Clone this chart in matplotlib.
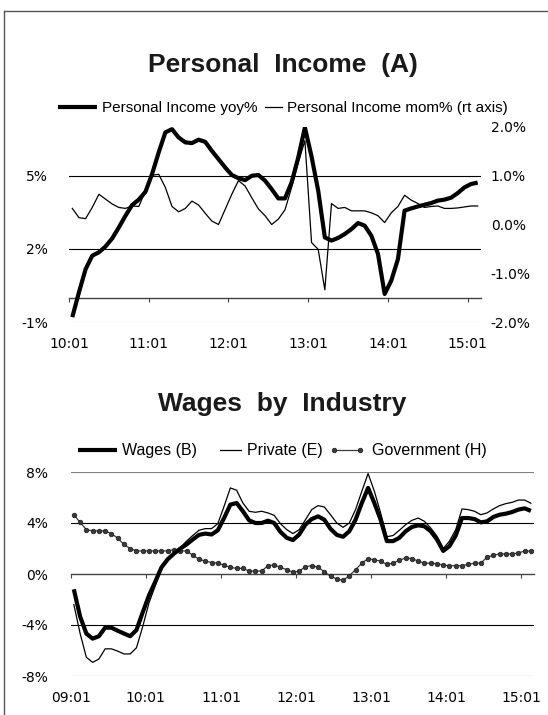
import numpy as np
import matplotlib
matplotlib.use('Agg')
import matplotlib.pyplot as plt
from matplotlib.legend_handler import HandlerLine2D
from matplotlib.lines import Line2D

# --- Personal Income, monthly 2010:01 - 2015:02 ---
pi_yoy = [-0.8, 0.22, 1.17, 1.72, 1.86, 2.1, 2.43, 2.88, 3.36, 3.8,
          4.02, 4.34, 5.07, 5.96, 6.78, 6.91, 6.57, 6.37, 6.34, 6.48,
          6.39, 6.02, 5.68, 5.34, 5.03, 4.9, 4.82, 5.0, 5.03, 4.8,
          4.45, 4.07, 4.07, 4.73, 5.75, 6.98, 5.79, 4.39, 2.47, 2.34,
          2.45, 2.61, 2.81, 3.06, 2.95, 2.54, 1.79, 0.15, 0.7, 1.58,
          3.57, 3.66, 3.74, 3.81, 3.88, 3.98, 4.02, 4.1, 4.29, 4.52,
          4.66, 4.72]
pi_mom = [0.33, 0.14, 0.12, 0.35, 0.62, 0.52, 0.42, 0.35, 0.33, 0.38,
          0.37, 0.69, 1.01, 1.03, 0.76, 0.37, 0.26, 0.33, 0.48, 0.40,
          0.23, 0.07, 0.0, 0.31, 0.62, 0.90, 0.79, 0.55, 0.32, 0.18,
          0.0, 0.11, 0.3, 0.76, 1.27, 1.72, -0.37, -0.51, -1.34, 0.43,
          0.33, 0.35, 0.28, 0.28, 0.28, 0.24, 0.18, 0.04, 0.24, 0.37,
          0.6, 0.5, 0.43, 0.35, 0.37, 0.38, 0.33, 0.33, 0.34, 0.36,
          0.38, 0.38]
pi_ticks = ['10:01', '11:01', '12:01', '13:01', '14:01', '15:01']
pi_left_ticks = [-1, 2, 5]
pi_left_labels = ['-1%', '2%', '5%']
pi_right_ticks = [-2, -1, 0, 1, 2]
pi_right_labels = ['-2.0%', '-1.0%', '0.0%', '1.0%', '2.0%']

# --- Wages by industry, yoy%, monthly 2009:01 - 2015:02 ---
wages_b = [-1.2, -3.33, -4.67, -5.07, -4.88, -4.21, -4.21, -4.45, -4.67, -4.88,
           -4.4, -3.01, -1.68, -0.61, 0.52, 1.16, 1.6, 1.99, 2.32, 2.71,
           3.07, 3.17, 3.1, 3.43, 4.39, 5.44, 5.57, 4.92, 4.21, 4.0,
           4.0, 4.18, 4.0, 3.3, 2.84, 2.66, 3.1, 3.87, 4.31, 4.52,
           4.26, 3.54, 3.07, 2.92, 3.35, 4.26, 5.57, 6.75, 5.57, 4.26,
           2.58, 2.58, 2.84, 3.35, 3.69, 3.82, 3.74, 3.35, 2.71, 1.81,
           2.19, 3.02, 4.39, 4.39, 4.31, 4.05, 4.13, 4.47, 4.65, 4.73,
           4.86, 5.05, 5.15, 4.95]
private_e = [-2.39, -4.66, -6.53, -6.93, -6.67, -5.87, -5.87, -6.05, -6.27, -6.27,
             -5.79, -4.13, -2.27, -0.93, 0.39, 1.11, 1.6, 2.06, 2.58, 3.02,
             3.43, 3.56, 3.56, 3.95, 5.31, 6.75, 6.57, 5.57, 4.92, 4.84,
             4.92, 4.79, 4.6, 3.95, 3.48, 3.17, 3.48, 4.26, 5.05, 5.36,
             5.26, 4.65, 4.0, 3.66, 4.0, 5.05, 6.49, 7.88, 6.49, 4.79,
             2.92, 3.02, 3.43, 3.87, 4.21, 4.39, 4.13, 3.61, 2.97, 1.99,
             2.58, 3.48, 5.1, 5.05, 4.92, 4.65, 4.79, 5.1, 5.36, 5.52,
             5.62, 5.8, 5.8, 5.55]
govt_h = [4.65, 4.05, 3.48, 3.38, 3.38, 3.38, 3.17, 2.81, 2.32, 1.99,
          1.81, 1.81, 1.81, 1.81, 1.81, 1.81, 1.91, 1.81, 1.81, 1.47,
          1.16, 1.01, 0.9, 0.85, 0.7, 0.52, 0.44, 0.44, 0.23, 0.23,
          0.23, 0.65, 0.72, 0.52, 0.34, 0.13, 0.23, 0.57, 0.65, 0.54,
          0.18, -0.18, -0.39, -0.5, -0.13, 0.34, 0.85, 1.21, 1.11, 1.01,
          0.75, 0.85, 1.08, 1.26, 1.21, 1.01, 0.85, 0.85, 0.8, 0.7,
          0.65, 0.65, 0.65, 0.75, 0.85, 0.85, 1.32, 1.47, 1.57, 1.57,
          1.57, 1.65, 1.8, 1.8]
wage_ticks = ['09:01', '10:01', '11:01', '12:01', '13:01', '14:01', '15:01']
wage_yticks = [-8, -4, 0, 4, 8]
wage_ylabels = ['-8%', '-4%', '0%', '4%', '8%']

plt.rcParams['font.family'] = ['DejaVu Sans']
legend_family = ['Liberation Sans', 'DejaVu Sans']
title_family = ['Liberation Sans', 'DejaVu Sans']

W, H = 548, 715
AXIS_GREY = '#444444'


def box(x0, y0, x1, y1):
    # pixel box (top-left origin) -> figure fraction rect
    return [x0 / W, 1 - y1 / H, (x1 - x0) / W, (y1 - y0) / H]


class ShortLine(HandlerLine2D):
    """Legend line that only fills the right part of the handle box."""
    def __init__(self, frac=1.0, **kw):
        super().__init__(**kw)
        self.frac = frac

    def create_artists(self, legend, orig_handle, xdescent, ydescent,
                       width, height, fontsize, trans):
        w = width * self.frac
        return super().create_artists(legend, orig_handle, xdescent - (width - w),
                                      ydescent, w, height, fontsize, trans)


def style_axis(ax, pad):
    for s in ['top', 'left', 'right']:
        ax.spines[s].set_visible(False)
    ax.spines['bottom'].set_position(('data', 0))
    ax.spines['bottom'].set_color(AXIS_GREY)
    ax.spines['bottom'].set_linewidth(1.0)
    ax.tick_params(axis='x', direction='out', length=3, width=0.8,
                   color=AXIS_GREY, pad=pad, labelsize=10)
    ax.tick_params(axis='y', length=0, labelsize=10)


fig = plt.figure(figsize=(W / 100, H / 100), dpi=100)

# ---------------- Personal Income ----------------
ax1 = fig.add_axes(box(69, 127, 481, 322))
ax1r = ax1.twinx()
ax1.set_zorder(ax1r.get_zorder() + 1)
ax1.patch.set_visible(False)

x1 = np.arange(len(pi_yoy)) + 0.5
mom_line, = ax1r.plot(x1, pi_mom, color='black', lw=0.9,
                      label='Personal Income mom% (rt axis)')
yoy_line, = ax1.plot(x1, pi_yoy, color='black', lw=3.0, zorder=3,
                     solid_capstyle='butt', label='Personal Income yoy%')

ax1.set_xlim(0, len(pi_yoy))
ax1.set_ylim(-1, 7)
ax1r.set_ylim(-2, 2)
for v in [5, 2]:
    ax1.axhline(v, color='black', lw=0.8, zorder=1)
ax1.axhline(-1, color='#c8c8c8', lw=0.8, zorder=1)

ax1.set_xticks(np.arange(0, len(pi_yoy), 12))
ax1.set_xticklabels(pi_ticks)
ax1.set_yticks(pi_left_ticks)
ax1.set_yticklabels(pi_left_labels)
style_axis(ax1, pad=25)
ax1.tick_params(axis='y', pad=15)

ax1r.set_yticks(pi_right_ticks)
ax1r.set_yticklabels(pi_right_labels)
for s in ax1r.spines.values():
    s.set_visible(False)
ax1r.tick_params(axis='y', length=0, pad=7, labelsize=10)

fig.text(282.5 / W, 1 - 71.7 / H, 'Personal  Income  (A)', ha='center',
         va='baseline', fontsize=19, fontweight='bold', family=title_family,
         color='#1a1a1a')

fig.legend([yoy_line, mom_line],
           [yoy_line.get_label(), mom_line.get_label()],
           loc='center', bbox_to_anchor=(283 / W, 1 - 108 / H), ncol=2,
           frameon=False, prop={'family': legend_family, 'size': 11},
           handlelength=2.55, handletextpad=0.35, columnspacing=-0.95,
           handler_map={mom_line: ShortLine(frac=0.44)})

# ---------------- Wages by Industry ----------------
ax2 = fig.add_axes(box(70.7, 472, 534, 676))
x2 = np.arange(len(wages_b)) + 0.5
gov_line, = ax2.plot(x2, govt_h, color='#3a3a3a', lw=0.9, marker='o', ms=3.3,
                     mfc='#3a3a3a', mec='#1a1a1a', mew=0.5, zorder=3,
                     label='Government (H)')
prv_line, = ax2.plot(x2, private_e, color='black', lw=0.9, zorder=3,
                     label='Private (E)')
wag_line, = ax2.plot(x2, wages_b, color='black', lw=3.0, zorder=4,
                     solid_capstyle='butt', label='Wages (B)')

ax2.set_xlim(0, len(wages_b))
ax2.set_ylim(-8, 8)
for v, c in [(8, '#808080'), (4, 'black'), (-4, 'black'), (-8, '#808080')]:
    ax2.axhline(v, color=c, lw=0.8, zorder=1)

ax2.set_xticks(np.arange(0, len(wages_b), 12))
ax2.set_xticklabels(wage_ticks)
ax2.set_yticks(wage_yticks)
ax2.set_yticklabels(wage_ylabels)
style_axis(ax2, pad=81)
ax2.tick_params(axis='y', pad=16)

fig.text(282.5 / W, 1 - 411 / H, 'Wages  by  Industry', ha='center',
         va='baseline', fontsize=19, fontweight='bold', family=title_family,
         color='#1a1a1a')

fig.legend([wag_line, prv_line, gov_line],
           [wag_line.get_label(), prv_line.get_label(), gov_line.get_label()],
           loc='center', bbox_to_anchor=(282.5 / W, 1 - 451 / H), ncol=3,
           frameon=False, prop={'family': legend_family, 'size': 11.5},
           handlelength=2.4, handletextpad=0.35, columnspacing=0.35,
           handler_map={prv_line: ShortLine(frac=0.55),
                        gov_line: HandlerLine2D(numpoints=2, marker_pad=0.4)})

# outer frame (top and left edges)
fig.add_artist(Line2D([4 / W, 4 / W], [0, 1 - 11 / H], transform=fig.transFigure,
                      color='#555555', lw=1.0))
fig.add_artist(Line2D([4 / W, 1], [1 - 11 / H, 1 - 11 / H], transform=fig.transFigure,
                      color='#555555', lw=1.0))

fig.savefig('out.png', dpi=100)
